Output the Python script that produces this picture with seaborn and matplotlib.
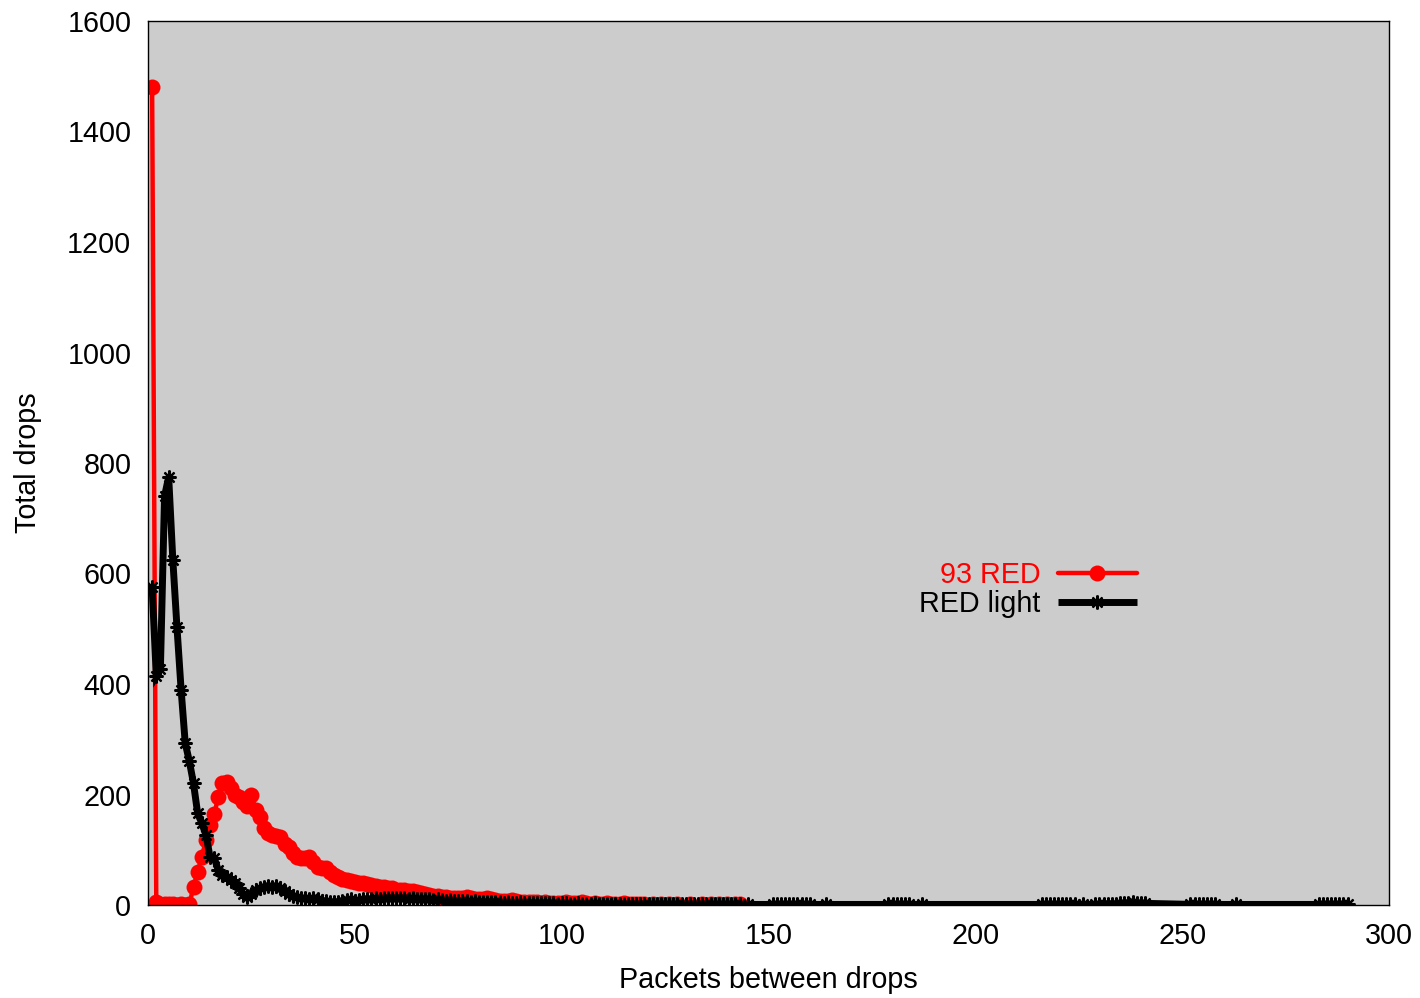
import numpy as np
import pandas as pd
import matplotlib
matplotlib.use("Agg")
import matplotlib.pyplot as plt
import seaborn as sns

# ---------------- data ----------------
red_x = list(range(1, 121)) + [122, 124, 126, 128, 131, 134, 136, 138, 140, 142, 143]
red_y = [1480, 5, 2, 1, 1, 1, 0, 1, 0, 1,
         33, 60, 87, 117, 145, 165, 195, 220, 223, 212,
         200, 195, 187, 180, 200, 172, 160, 139, 130, 127,
         125, 123, 110, 105, 95, 87, 85, 85, 87, 78,
         69, 67, 67, 60, 55, 50, 47, 45, 43, 42,
         40, 40, 38, 36, 35, 33, 32, 30, 30, 28,
         27, 28, 26, 25, 24, 22, 20, 18, 17, 16,
         15, 14, 13, 13, 12, 13, 14, 12, 10, 10,
         11, 12, 10, 9, 8, 8, 8, 9, 7, 6,
         6, 5, 6, 5, 4, 5, 4, 4, 3, 4,
         5, 4, 3, 3, 5, 3, 2, 3, 2, 2,
         4, 2, 2, 1, 3, 1, 2, 1, 1, 1,
         2, 1, 1, 2, 1, 1, 1, 1, 1, 1, 1]

black_x = (list(range(1, 144))
           + [145, 151, 152, 153, 154, 155, 156, 157, 158, 159, 160, 164,
              179, 180, 181, 182, 183, 184, 187,
              216, 217, 218, 219, 220, 221, 222, 223, 224, 226,
              229, 230, 231, 232, 233, 234, 235, 236, 237, 238, 239, 240, 241,
              252, 253, 254, 255, 256, 257, 258, 263,
              283, 284, 285, 286, 287, 288, 289, 290])
black_y = ([575, 415, 428, 740, 775, 625, 503, 390, 293, 260,
            220, 166, 148, 127, 87, 85, 63, 55, 50, 45,
            40, 30, 20, 15, 20, 27, 30, 33, 35, 33,
            35, 30, 25, 20, 17, 15, 12, 12, 10, 12,
            10, 8, 7, 6, 5, 6, 8, 9, 10, 8,
            9, 10, 11, 10, 12, 11, 12, 13, 12, 12,
            13, 12, 11, 12, 11, 10, 11, 10, 9, 10,
            9, 8, 9, 8, 7, 8, 7, 6, 7, 6,
            6, 5, 6, 5, 5, 4, 5, 4, 4, 5,
            4, 3, 4, 3, 3, 4, 3, 3, 2, 3]
           + [3, 2, 2, 3, 2, 2, 2, 3, 2, 2,
              2, 2, 1, 2, 2, 1, 2, 1, 1, 2,
              1, 1, 1, 2, 1, 1, 1, 1, 1, 1,
              1, 1, 1, 1, 1, 1, 1, 1, 1, 1,
              1, 1, 1]
           + [1, 1, 1, 1, 1, 1, 1, 1, 1, 1, 1, 1,
              1, 1, 1, 1, 1, 1, 1,
              1, 1, 1, 1, 1, 1, 1, 1, 1, 1,
              1, 1, 2, 2, 2, 2, 3, 3, 4, 5, 4, 3, 3,
              1, 1, 1, 1, 1, 1, 1, 1,
              1, 1, 1, 1, 1, 1, 1, 1])

x_ticks = [0, 50, 100, 150, 200, 250, 300]
y_ticks = [0, 200, 400, 600, 800, 1000, 1200, 1400, 1600]
labels = ["93 RED", "RED light"]
colors = ["#ff0000", "#000000"]

# ---------------- plot ----------------
sns.set_style("white")
plt.rcParams['font.family'] = ['Liberation Sans', 'DejaVu Sans']
plt.rcParams['text.color'] = 'black'
plt.rcParams['axes.labelcolor'] = 'black'
FS = 20.7

fig = plt.figure(figsize=(14.2, 9.98), dpi=100)
ax = fig.add_axes([148/1420, 1-905/998, (1389-148)/1420, (905-21)/998])
ax.set_facecolor("#cccccc")

sns.lineplot(x=red_x, y=red_y, ax=ax, color=colors[0], lw=3.2,
             marker="o", markersize=11.5, markeredgewidth=0,
             label=labels[0], estimator=None, sort=False)
sns.lineplot(x=black_x, y=black_y, ax=ax, color=colors[1], lw=5.0,
             marker=(8, 2, 0), markersize=10, markeredgewidth=1.6,
             markeredgecolor="black",
             label=labels[1], estimator=None, sort=False)
ax.lines[1].set_solid_joinstyle("miter")
ax.lines[1].set_solid_capstyle("butt")

ax.set_xlim(0, 300)
ax.set_ylim(0, 1600)
ax.set_xticks(x_ticks)
ax.set_yticks(y_ticks)
ax.tick_params(axis='both', length=0, pad=12, labelsize=FS, colors="black")
for s in ax.spines.values():
    s.set_color("black")
    s.set_linewidth(1.0)
    s.set_visible(True)

ax.set_xlabel("Packets between drops", fontsize=FS, labelpad=12, color="black")
ax.set_ylabel("Total drops", fontsize=FS, labelpad=18, color="black")

leg = ax.legend(loc="upper right", bbox_to_anchor=(1137/1420, 1-561/998),
                bbox_transform=fig.transFigure, frameon=False, fontsize=FS,
                markerfirst=False, handlelength=2.75, handletextpad=0.6,
                labelspacing=0.05, borderpad=0, borderaxespad=0)
for t, c in zip(leg.get_texts(), colors):
    t.set_color(c)

fig.savefig("out.png", dpi=100)
